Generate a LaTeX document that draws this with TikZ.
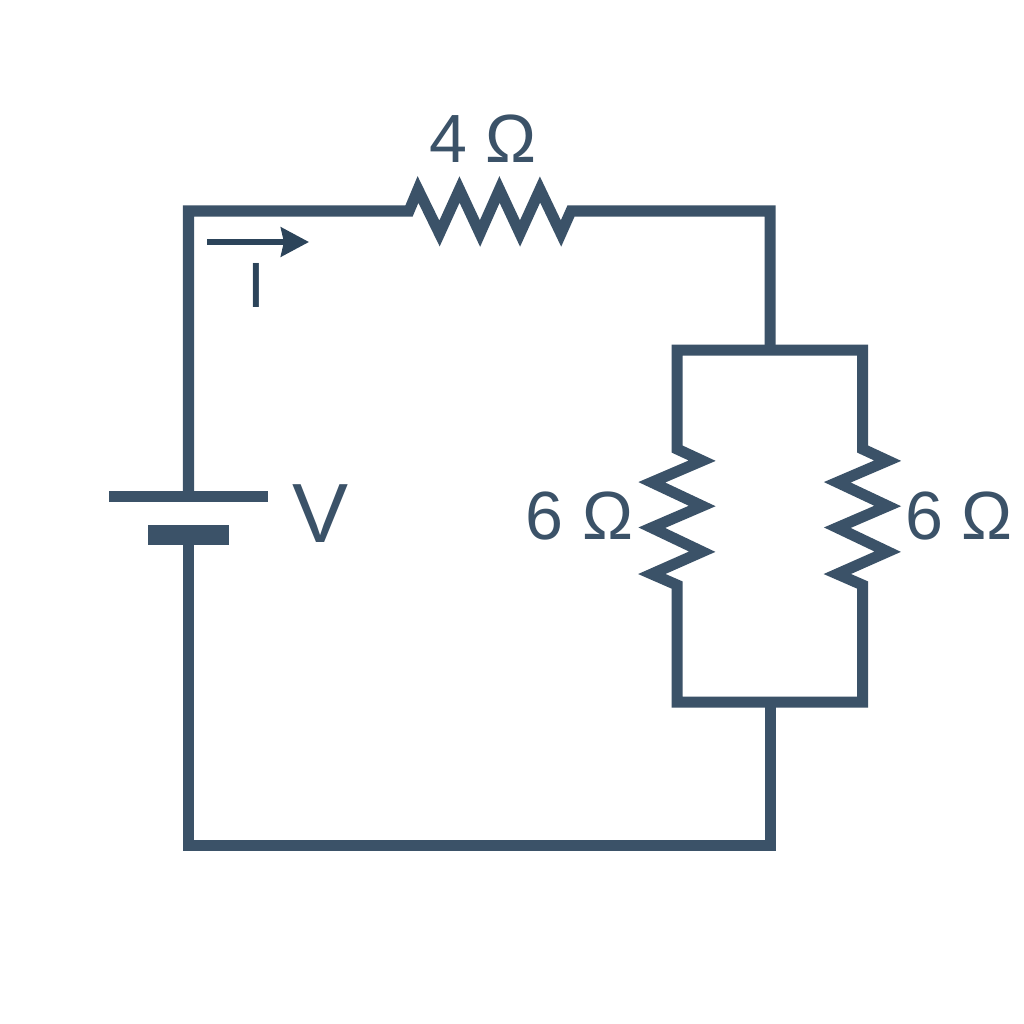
\documentclass[tikz,border=0pt]{standalone}
\usepackage{fontspec}
\setmainfont{Liberation Sans}
\usetikzlibrary{arrows.meta}
\definecolor{wirecol}{HTML}{3B5268}
\definecolor{arrowcol}{HTML}{2C445A}
\tikzset{
    wire/.style={line width=0.11cm, color=wirecol},
    label/.style={inner sep=0pt, anchor=base, color=wirecol, font=\fontsize{19.4}{20}\selectfont},
    current/.style={line width=0.06cm, color=arrowcol, -{Stealth[length=0.28cm, width=0.29cm, inset=0.03cm]}},
}

\begin{document}
\begin{tikzpicture}[x=0.01cm, y=-0.01cm]
    \useasboundingbox [fill=white] (0,0) rectangle (1024,1024);

    % corners of the loop
    \coordinate (topleft) at (188.5,211);
    \coordinate (topright) at (770,211);
    \coordinate (botleft) at (188.5,845);
    \coordinate (botright) at (770,845);
    \coordinate (parTop) at (770,350);
    \coordinate (parBot) at (770,702);
    \coordinate (parTL) at (677,350);
    \coordinate (parTR) at (862.5,350);
    \coordinate (parBL) at (677,702);
    \coordinate (parBR) at (862.5,702);

    % battery
    \coordinate (longL) at (109,496.5);
    \coordinate (longR) at (268,496.5);
    \coordinate (longC) at (188.5,496.5);
    \coordinate (shortL) at (148,535);
    \coordinate (shortR) at (229,535);
    \coordinate (shortC) at (188.5,535);
    \draw [wire] (longL) -- (longR);
    \draw [wire, line width=0.20cm] (shortL) -- (shortR);

    % outer wires with the series resistor
    \coordinate (topIn) at (409,211);
    \coordinate (topOut) at (571,211);
    \draw [wire] (longC) -- (topleft) -- (topIn) -- (418,189.5) -- (439.5,233.5) -- (459.5,189.5) -- (480,233.5)
        -- (499.5,189.5) -- (520,233.5) -- (540,189.5) -- (561,233.5) -- (topOut) -- (topright) -- (parTop);
    \draw [wire] (shortC) -- (botleft) -- (botright) -- (parBot);

    % parallel branch with its two resistors
    \coordinate (leftIn) at (677,449);
    \coordinate (leftOut) at (677,585);
    \coordinate (rightIn) at (862.5,449);
    \coordinate (rightOut) at (862.5,585);
    \draw [wire] (parTL) -- (leftIn) -- ++(25.2,11.7) -- ++(-50.4,21.6) -- ++(50.4,23.7) -- ++(-50.4,21.7)
        -- ++(50.4,24) -- ++(-50.4,22.3) -- (leftOut) -- (parBL) -- (parBR) -- (rightOut)
        -- ++(-25.2,-11) -- ++(50.4,-22.3) -- ++(-50.4,-24) -- ++(50.4,-21.7) -- ++(-50.4,-23.7)
        -- ++(50.4,-21.6) -- (rightIn) -- (parTR) -- cycle;

    % current arrow
    \coordinate (arrowStart) at (207,242);
    \coordinate (arrowEnd) at (309,242);
    \draw [current] (arrowStart) -- (arrowEnd);

    % labels
    \node [label] (rtop) at (483,162) {4 Ω};
    \node [label] (rleft) at (579.5,539) {6 Ω};
    \node [label] (rright) at (959,539) {6 Ω};
    \node [label, font=\fontsize{18.2}{20}\selectfont, color=arrowcol] (ilabel) at (256.7,307) {I};
    \node [label, font=\fontsize{23.9}{26}\selectfont] (vlabel) at (320.5,542) {V};

\end{tikzpicture}
\end{document}
